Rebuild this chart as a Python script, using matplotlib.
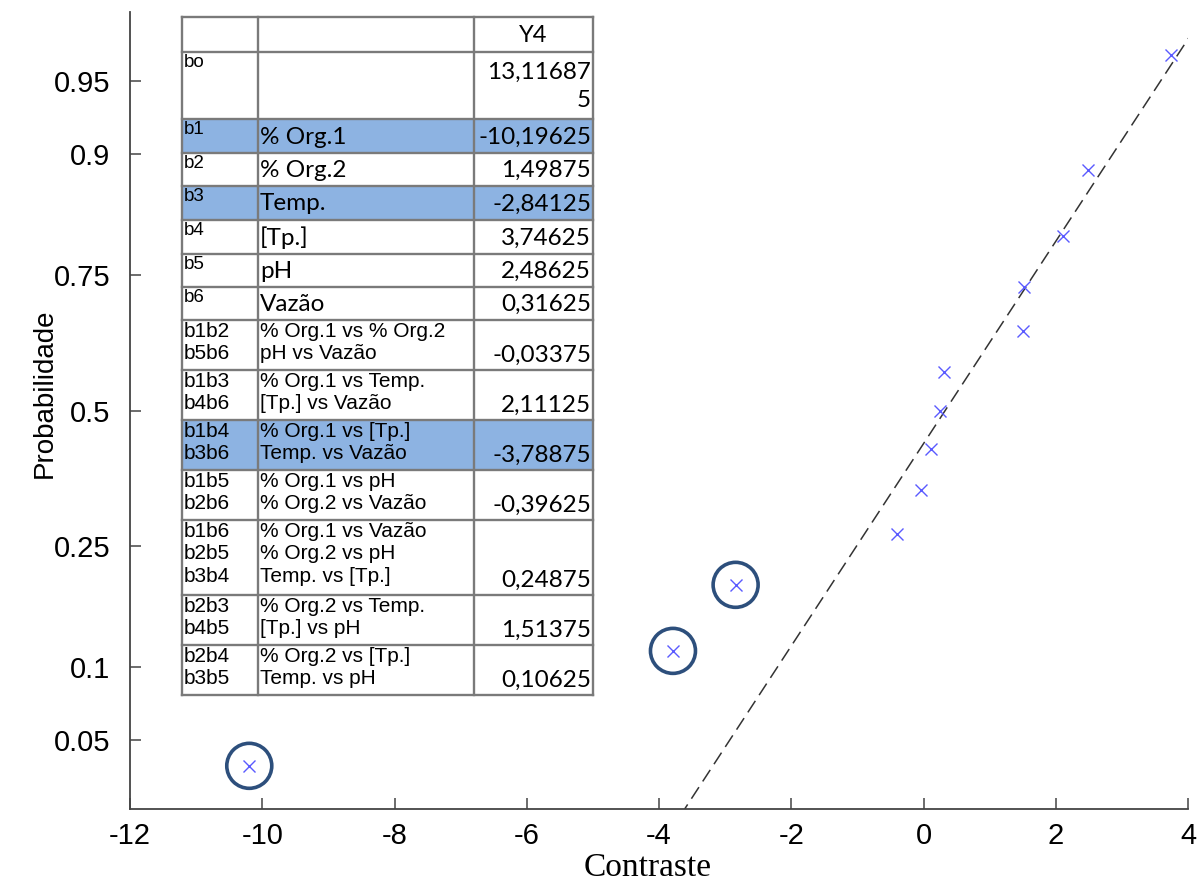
"""
Gráfico de probabilidade normal dos contrastes (Y4) com a tabela de efeitos.
"""
import numpy as np
import matplotlib
matplotlib.use("Agg")
import matplotlib.pyplot as plt
from matplotlib.patches import Rectangle
from statistics import NormalDist

# ================= dados =================
CODIGOS = ["", "bo", "b1", "b2", "b3", "b4", "b5", "b6",
           "b1b2\nb5b6", "b1b3\nb4b6", "b1b4\nb3b6", "b1b5\nb2b6",
           "b1b6\nb2b5\nb3b4", "b2b3\nb4b5", "b2b4\nb3b5"]
FATORES = ["", "", "% Org.1", "% Org.2", "Temp.", "[Tp.]", "pH", "Vazão",
           "% Org.1 vs % Org.2\npH vs Vazão",
           "% Org.1 vs Temp.\n[Tp.] vs Vazão",
           "% Org.1 vs [Tp.]\nTemp. vs Vazão",
           "% Org.1 vs pH\n% Org.2 vs Vazão",
           "% Org.1 vs Vazão\n% Org.2 vs pH\nTemp. vs [Tp.]",
           "% Org.2 vs Temp.\n[Tp.] vs pH",
           "% Org.2 vs [Tp.]\nTemp. vs pH"]
VALORES = ["Y4", "13,11687\n5", "-10,19625", "1,49875", "-2,84125", "3,74625",
           "2,48625", "0,31625", "-0,03375", "2,11125", "-3,78875", "-0,39625",
           "0,24875", "1,51375", "0,10625"]
DESTAQUE = [False, False, True, False, True, False, False, False,
            False, False, True, False, False, False, False]
# probabilidades (efeitos ordenados)
PROB = [0.038, 0.115, 0.192, 0.269, 0.346, 0.423, 0.5,
        0.577, 0.654, 0.731, 0.808, 0.885, 0.962]
YTICKS = [0.05, 0.1, 0.25, 0.5, 0.75, 0.9, 0.95]
XTICKS = [-12, -10, -8, -6, -4, -2, 0, 2, 4]
# =========================================

W, H = 1202, 884
AZUL_X, AZUL_CIRC, AZUL_TAB = "#5a5aff", "#2d4f7c", "#8db3e2"
CINZA = "#7a7a7a"
ARIAL = "Liberation Sans"
CALIBRI = "Lato"
ND = NormalDist()


def probit(p):
    p = np.clip(np.asarray(p, float), 1e-9, 1 - 1e-9)
    return np.vectorize(ND.inv_cdf, otypes=[float])(p)


def cdf(z):
    return np.vectorize(ND.cdf, otypes=[float])(np.asarray(z, float))


efeitos = np.array([float(v.replace(",", ".")) for v in VALORES[2:]])
destaque = np.array(DESTAQUE[2:])
ordem = np.argsort(efeitos)
xs = efeitos[ordem]
ps = np.array(PROB)

fig = plt.figure(figsize=(W / 100, H / 100), dpi=100)
ax = fig.add_axes([130 / W, 1 - 809 / H, 1058 / W, 797 / H])
ax.set_yscale("function", functions=(probit, cdf))

# reta de referência pelos quartis (como no normplot)
n = len(xs)
q1 = np.interp(0.25 * n + 0.5, np.arange(1, n + 1), xs)
q3 = np.interp(0.75 * n + 0.5, np.arange(1, n + 1), xs)
zz = np.linspace(-3, 3, 200)
zq1, zq3 = ND.inv_cdf(0.25), ND.inv_cdf(0.75)
xr = q1 + (zz - zq1) * (q3 - q1) / (zq3 - zq1)
ax.plot(xr, cdf(zz), color="#333333", lw=1.1, ls=(0, (9, 4.5)), zorder=2)

ax.plot(xs, ps, ls="none", marker="x", ms=8.5, mew=1.0, color=AZUL_X, zorder=3)
ax.scatter(xs[destaque[ordem]], ps[destaque[ordem]], s=1050, facecolor="none",
           edgecolor=AZUL_CIRC, lw=2.6, zorder=4)

ax.set_xlim(-12, 4)
ax.set_ylim(cdf(-1.99), cdf(1.99))
ax.set_xticks(XTICKS)
ax.set_xticklabels([str(t) for t in XTICKS])
ax.set_yticks(YTICKS)
ax.set_yticklabels([str(t) for t in YTICKS])
ax.minorticks_off()
ax.tick_params(direction="in", length=8, width=1.1, color="#444444")
ax.tick_params(axis="x", labelsize=21, pad=9)
ax.tick_params(axis="y", labelsize=21, pad=14)
for lab in ax.get_xticklabels() + ax.get_yticklabels():
    lab.set_fontfamily(ARIAL)
for s in ["top", "right"]:
    ax.spines[s].set_visible(False)
for s in ["left", "bottom"]:
    ax.spines[s].set_color("#444444"); ax.spines[s].set_linewidth(1.3)
fig.text(45 / W, 1 - 393 / H, "Probabilidade", rotation=90, ha="center", va="center",
         fontsize=20, family=ARIAL)
fig.text(648 / W, 1 - 868 / H, "Contraste", ha="center", va="center",
         fontsize=24, family="Liberation Serif")

# ---------------- tabela ----------------
LINHAS = [17, 52, 119, 153, 186, 220, 254, 287, 320, 370, 420, 470, 520, 595, 645, 695]
COLS = [182, 258, 474, 593]
tb = fig.add_axes([0, 0, 1, 1])
tb.set_xlim(0, W); tb.set_ylim(H, 0); tb.axis("off")
for i, (cod, fat, val, hl) in enumerate(zip(CODIGOS, FATORES, VALORES, DESTAQUE)):
    y0, y1 = LINHAS[i], LINHAS[i + 1]
    tb.add_patch(Rectangle((COLS[0], y0), COLS[3] - COLS[0], y1 - y0,
                           fc=AZUL_TAB if hl else "white", ec="none", zorder=1))
    multi = "\n" in fat
    if i == 0:
        tb.text((COLS[2] + COLS[3]) / 2, (y0 + y1) / 2 + 1, val, ha="center", va="center",
                fontsize=17, family=CALIBRI)
        continue
    tb.text(COLS[0] + 2, y0 + 2, cod, ha="left", va="top", fontsize=15 if multi else 13.5,
            family=ARIAL, linespacing=1.22, zorder=3)
    if multi:
        tb.text(COLS[1] + 2, y0 + 2, fat, ha="left", va="top", fontsize=15,
                family=ARIAL, linespacing=1.22, zorder=3)
        tb.text(COLS[3] - 2, y1 - 4, val, ha="right", va="bottom", fontsize=17.5,
                family=CALIBRI, zorder=3)
    else:
        tb.text(COLS[1] + 2, (y0 + y1) / 2 + 1, fat, ha="left", va="center", fontsize=17.5,
                family=CALIBRI, zorder=3)
        tb.text(COLS[3] - 2, (y0 + y1) / 2 + 1, val, ha="right", va="center", fontsize=17.5,
                family=CALIBRI, linespacing=1.45, zorder=3)
for y in LINHAS:
    tb.plot([COLS[0], COLS[3]], [y, y], color=CINZA, lw=1.7, zorder=2)
for x in COLS:
    tb.plot([x, x], [LINHAS[0], LINHAS[-1]], color=CINZA, lw=1.7, zorder=2)

fig.savefig("out.png", dpi=100)
